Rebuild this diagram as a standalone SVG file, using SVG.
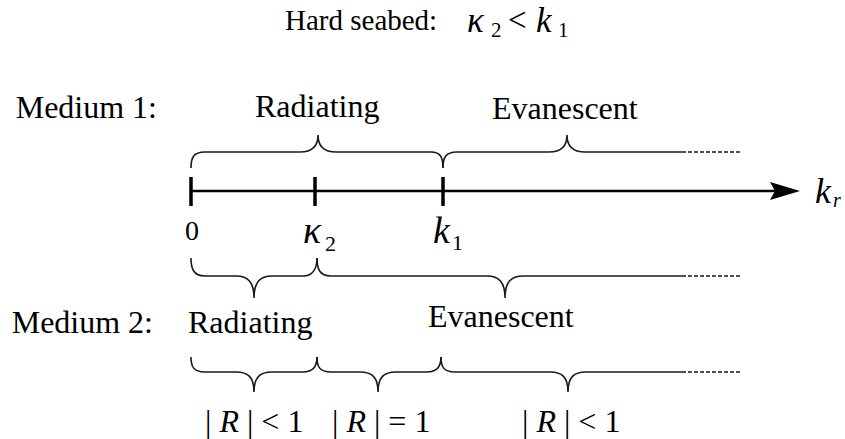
<svg xmlns="http://www.w3.org/2000/svg" width="845" height="439" viewBox="0 0 845 439" font-family="'Liberation Serif', 'Times New Roman', serif">
<style>
text{font-family:"Liberation Serif","Times New Roman",serif;fill:#000}
.lbl{font-size:32px}
.it{font-style:italic}
.brace{fill:none;stroke:#1a1a1a;stroke-width:1.6}
.dash{fill:none;stroke:#1a1a1a;stroke-width:1.6;stroke-dasharray:4 2}
.tick{stroke:#000;stroke-width:3.5}
</style>
<rect width="845" height="439" fill="#fff"/>
<g id="title">
<text x="285" y="30" font-size="29">Hard seabed:</text>
<text x="467" y="32" font-size="35" class="it">κ</text>
<text x="491" y="37" font-size="21">2</text>
<text x="508" y="31" font-size="33">&lt;</text>
<text x="536" y="32" font-size="35" class="it">k</text>
<text x="558" y="37" font-size="21">1</text>
</g>
<g id="medium1">
<text class="lbl" x="157" y="118" text-anchor="end">Medium 1:</text>
<text class="lbl" x="255" y="117">Radiating</text>
<text class="lbl" x="492" y="119">Evanescent</text>
</g>
<g id="axis">
<line x1="191" y1="191" x2="775" y2="191" stroke="#000" stroke-width="2.5"/>
<polygon points="770,182 800,191 770,200 775,191" fill="#000"/>
<line class="tick" x1="191" y1="177" x2="191" y2="206"/>
<line class="tick" x1="315" y1="177" x2="315" y2="206"/>
<line class="tick" x1="443" y1="177" x2="443" y2="206"/>
<text x="185" y="240" font-size="28">0</text>
<text x="303" y="243" font-size="38" class="it">κ</text>
<text x="325" y="251" font-size="22">2</text>
<text x="433" y="243" font-size="38" class="it">k</text>
<text x="452" y="250" font-size="22">1</text>
<text x="815" y="203" font-size="36" class="it">k</text>
<text x="833" y="207" font-size="20" class="it">r</text>
</g>
<g id="connectors">
<path class="brace" d="M191,168 C191,158 193,152 205,152 L300,152 C312,152 318,147 318,135 C318,147 324,152 336,152 L431,152 C441,152 443,158 443,168"/>
<path class="brace" d="M443,168 C443,158 445,152 457,152 L549,152 C561,152 567,147 567,135 C567,147 573,152 585,152 L682,152"/>
<path class="dash" d="M682,152 L742,152"/>
<path class="brace" d="M191,258 C191,268 193,276 205,276 L236,276 C248,276 254,282 254,298 C254,282 260,276 272,276 L303,276 C313,276 317,268 317,258"/>
<path class="brace" d="M317,258 C317,268 319,276 331,276 L487,276 C499,276 505,282 505,298 C505,282 511,276 523,276 L682,276"/>
<path class="dash" d="M682,276 L742,276"/>
<path class="brace" d="M191,357 C191,366 193,372 205,372 L236,372 C248,372 254,377 254,392 C254,377 260,372 272,372 L303,372 C313,372 317,366 317,357"/>
<path class="brace" d="M317,357 C317,366 319,372 331,372 L360,372 C372,372 378,377 378,392 C378,377 384,372 396,372 L427,372 C437,372 441,366 441,357"/>
<path class="brace" d="M441,357 C441,366 443,372 455,372 L550,372 C562,372 568,377 568,392 C568,377 574,372 586,372 L682,372"/>
<path class="dash" d="M682,372 L742,372"/>
</g>
<g id="medium2">
<text class="lbl" x="153" y="333" text-anchor="end">Medium 2:</text>
<text class="lbl" x="188" y="333">Radiating</text>
<text class="lbl" x="428" y="327">Evanescent</text>
</g>
<g id="reflection">
<text class="lbl" x="205" y="432">| <tspan class="it">R</tspan> | &lt; 1</text>
<text class="lbl" x="332" y="432">| <tspan class="it">R</tspan> | = 1</text>
<text class="lbl" x="522" y="432">| <tspan class="it">R</tspan> | &lt; 1</text>
</g>
</svg>
